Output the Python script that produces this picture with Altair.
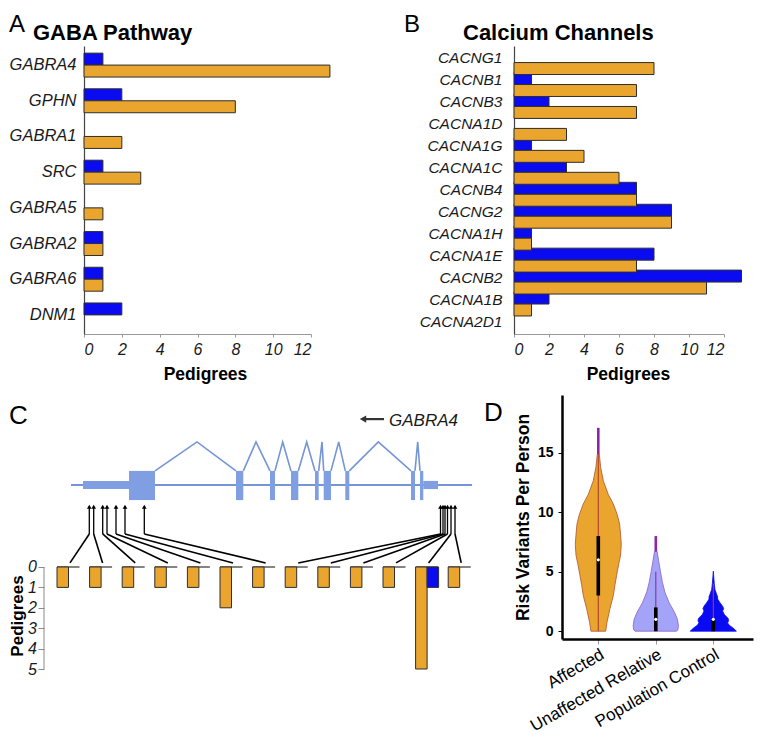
import altair as alt
import pandas as pd

FONT = "Liberation Sans"
ORANGE = "#E9A52E"
BLUE = "#0B0BF2"
LAVENDER = "#A3A3F7"
EDGE = "#2E2E2E"
EXON = "#7F9FE2"
INTRON = "#7595D6"
PURPLE = "#8E24A8"

# ---------------- data ----------------
series = ["Control", "Affected"]
pedigree_ticks = [0, 2, 4, 6, 8, 10, 12]

# Panel A - GABA pathway
gaba_genes = ["GABRA4", "GPHN", "GABRA1", "SRC", "GABRA5", "GABRA2", "GABRA6", "DNM1"]
gaba_control = [1, 2, 0, 1, 0, 1, 1, 2]
gaba_affected = [13, 8, 2, 3, 1, 1, 1, 0]

# Panel B - calcium channels
ca_genes = ["CACNG1", "CACNB1", "CACNB3", "CACNA1D", "CACNA1G", "CACNA1C", "CACNB4",
            "CACNG2", "CACNA1H", "CACNA1E", "CACNB2", "CACNA1B", "CACNA2D1"]
ca_control = [0, 1, 2, 0, 1, 3, 7, 9, 1, 8, 13, 2, 0]
ca_affected = [8, 7, 7, 3, 4, 6, 7, 9, 1, 7, 11, 1, 0]

# Panel C - GABRA4 gene model (positions along the gene, arbitrary units)
gene_span = [0, 401]
utr_start = [12, 352.3]
utr_end = [58, 367]
exon_start = [58, 165, 199, 220, 244, 252.7, 274.3, 340, 349]
exon_end = [84, 172.3, 204, 227.3, 247.7, 260, 278.3, 344, 352.3]
intron_peak = [126, 185, 211.7, 235.7, 251, 267.7, 307.3, 346.7]
variant_pos = [18.3, 22.7, 31.7, 36, 45, 54, 73.3, 369.5, 372, 374, 376.5, 380, 384]
variant_affected = [1, 1, 1, 1, 1, 2, 1, 1, 1, 1, 1, 5, 1]
variant_control = [0, 0, 0, 0, 0, 0, 0, 0, 0, 0, 0, 1, 0]
pedigree_ticks_c = [0, 1, 2, 3, 4, 5]

# Panel D - risk variants per person (violin half-widths per level)
groups = ["Affected", "Unaffected Relative", "Population Control"]
aff_level = [0, 0.74, 1.9, 3.0, 3.9, 4.7, 5.6, 6.4, 7.3, 8.1, 9.0, 9.8, 10.7, 11.5, 12.65, 13.8, 14.9]
aff_width = [0.128, 0.151, 0.203, 0.261, 0.29, 0.319, 0.354, 0.388, 0.40, 0.388, 0.371, 0.33,
             0.261, 0.174, 0.087, 0.041, 0.017]
unaff_level = [0, 0.1, 0.45, 1.0, 1.6, 2.4, 3.3, 4.1, 5.0, 5.85, 6.7]
unaff_width = [0.359, 0.383, 0.394, 0.377, 0.325, 0.232, 0.157, 0.116, 0.081, 0.052, 0.023]
pop_level = [0, 0.1, 0.3, 0.5, 0.7, 0.9, 1.1, 1.4, 1.7, 1.9, 2.1, 2.4, 2.7, 2.9, 3.1, 3.5, 4.0, 4.5, 5.05]
pop_width = [0.40, 0.383, 0.336, 0.278, 0.249, 0.267, 0.255, 0.191, 0.162, 0.18, 0.162, 0.116,
             0.075, 0.075, 0.058, 0.029, 0.017, 0.009, 0.0]
whisker_lo = [0, 0, 0]
whisker_hi = [14.9, 5, 4]
box_q1 = [3, 0, 0]
box_q3 = [8, 2, 1]
box_median = [6, 1, 1]
tip_lo = [14.9, 6.7]
tip_hi = [17.1, 8.0]
whisker_colors = ["#B0402E", "#9A2A9A", "#C0305A"]


# ---------------- helpers ----------------
def marker(px, py):
    return alt.Chart(pd.DataFrame({"m": [0]})).mark_rule(color="white", strokeWidth=1).encode(
        x=alt.value(px), x2=alt.value(px), y=alt.value(py), y2=alt.value(py))


def note(text, px, py, size, weight="normal", style="normal", angle=0, align="left",
         baseline="alphabetic", color="black"):
    return alt.Chart(pd.DataFrame({"t": [text]})).mark_text(
        font=FONT, fontSize=size, fontWeight=weight, fontStyle=style, angle=angle,
        align=align, baseline=baseline, color=color).encode(
        x=alt.value(px), y=alt.value(py), text="t:N")


def bar_panel(genes, control, affected, width, p_in, p_out, label_size, label_pad,
              letter, letter_x, title, title_x, left_mark, right_mark):
    df = pd.DataFrame({"gene": genes + genes,
                       "series": ["Control"] * len(genes) + ["Affected"] * len(genes),
                       "n": control + affected})
    bars = alt.Chart(df).transform_filter("datum.n > 0").mark_bar(
        stroke=EDGE, strokeWidth=1).encode(
        y=alt.Y("gene:N", scale=alt.Scale(domain=genes, paddingInner=p_in, paddingOuter=p_out),
                axis=alt.Axis(title=None, ticks=False, labelFont=FONT, labelFontSize=label_size,
                              labelFontStyle="italic", labelColor="#1a1a1a", labelPadding=label_pad,
                              domainColor="#444", domainWidth=1.2)),
        yOffset=alt.YOffset("series:N", scale=alt.Scale(domain=series, paddingInner=0, paddingOuter=0)),
        x=alt.X("n:Q", scale=alt.Scale(domain=[0, 12], nice=False),
                axis=alt.Axis(values=pedigree_ticks, title="Pedigrees", grid=False,
                              domainColor="#9a9a9a", tickColor="#9a9a9a", tickSize=3,
                              labelFont=FONT, labelFontSize=16, labelFontStyle="italic",
                              labelColor="#1a1a1a", labelPadding=4,
                              titleFont=FONT, titleFontSize=17.5, titleFontWeight="bold",
                              titleColor="black", titleX=title_x, titleY=31)),
        color=alt.Color("series:N", scale=alt.Scale(domain=series, range=[BLUE, ORANGE]), legend=None),
    )
    return alt.layer(
        bars,
        note(letter, letter_x, -14, 24),
        note(title, -51, -6, 22, weight="bold"),
        marker(left_mark, -37),
        marker(right_mark, 343),
    ).properties(width=width, height=288)


panel_a = bar_panel(gaba_genes, gaba_control, gaba_affected, 227, 0.33, 0.2, 16.5, 8,
                    "A", -75, "GABA Pathway", 121, -75, 257)
panel_b = bar_panel(ca_genes, ca_control, ca_affected, 210, 0.30, 0.21, 15.5, 12,
                    "B", -110, "Calcium Channels", 114, -113, 240)

# ---------------- panel C ----------------
LINE_Y, UTR_TOP, UTR_BOT = -4.02, -4.22, -3.82
EXON_TOP, EXON_BOT, ARC_PEAK = -4.71, -3.28, -6.13
ARROW_TOP, ARROW_BOT, LINK_END = -2.95, -1.62, -0.2
BAR_X0, BAR_STEP, BAR_W, TICK_LEN, LAND_OFF = -14, 32.6, 11.5, 22.5, 13
STRAND_Y, STRAND_X0, STRAND_X1, LABEL_X, LABEL_Y = -7.25, 292, 313, 318, -6.91

XC = alt.Scale(domain=[13, 405], nice=False, zero=False)
YC = alt.Scale(domain=[-8.431, 5.196], nice=False, zero=False, reverse=True)
yc_axis = alt.Axis(values=pedigree_ticks_c, title=None, domain=False, grid=False, offset=40,
                   tickSize=6, tickColor="#8a8a8a", labelFont=FONT, labelFontSize=16,
                   labelFontStyle="italic", labelColor="#1a1a1a", labelPadding=1.5)


def cx(field):
    return alt.X(field, scale=XC, axis=None)


def cy(field):
    return alt.Y(field, scale=YC, axis=yc_axis)


line_df = pd.DataFrame({"x0": [gene_span[0]], "x1": [gene_span[1]], "y": [LINE_Y]})
utr_df = pd.DataFrame({"s": utr_start, "e": utr_end, "t": UTR_TOP, "b": UTR_BOT})
exon_df = pd.DataFrame({"s": exon_start, "e": exon_end, "t": EXON_TOP, "b": EXON_BOT})
arc_rows = []
for i, pk in enumerate(intron_peak):
    arc_rows += [{"id": i, "seq": 0, "x": exon_end[i], "y": EXON_TOP},
                 {"id": i, "seq": 1, "x": pk, "y": ARC_PEAK},
                 {"id": i, "seq": 2, "x": exon_start[i + 1], "y": EXON_TOP}]
arc_df = pd.DataFrame(arc_rows)
var_df = pd.DataFrame({"pos": variant_pos, "aff": variant_affected, "ctl": variant_control,
                       "slot": list(range(len(variant_pos)))})
var_df["left"] = BAR_X0 + BAR_STEP * var_df["slot"]
var_df["mid"] = var_df["left"] + BAR_W
var_df["right"] = var_df["left"] + 2 * BAR_W
var_df["tick_end"] = var_df["left"] + TICK_LEN
var_df["land"] = var_df["left"] + LAND_OFF
var_df["zero"] = 0
var_df["a_top"] = ARROW_TOP
var_df["a_bot"] = ARROW_BOT
var_df["link"] = LINK_END
strand_df = pd.DataFrame({"x0": [STRAND_X0], "x1": [STRAND_X1], "y": [STRAND_Y],
                          "lx": [LABEL_X], "ly": [LABEL_Y], "name": ["GABRA4"]})
axis_df = pd.DataFrame({"x": [-27], "y0": [pedigree_ticks_c[0]], "y1": [pedigree_ticks_c[-1]]})

c_line = alt.Chart(line_df).mark_rule(color=INTRON, strokeWidth=2).encode(
    x=cx("x0:Q"), x2="x1:Q", y=cy("y:Q"))
c_arcs = alt.Chart(arc_df).mark_line(color=INTRON, strokeWidth=1.6).encode(
    x=cx("x:Q"), y=cy("y:Q"), detail="id:N", order="seq:Q")
c_utr = alt.Chart(utr_df).mark_rect(color=EXON).encode(
    x=cx("s:Q"), x2="e:Q", y=cy("t:Q"), y2="b:Q")
c_exon = alt.Chart(exon_df).mark_rect(color=EXON).encode(
    x=cx("s:Q"), x2="e:Q", y=cy("t:Q"), y2="b:Q")
c_strand = alt.Chart(strand_df).mark_rule(color="#333", strokeWidth=2.2).encode(
    x=cx("x0:Q"), x2="x1:Q", y=cy("y:Q"))
c_strand_head = alt.Chart(strand_df).mark_point(shape="triangle-left", filled=True, size=55,
                                                 color="#333", opacity=1).encode(
    x=cx("x0:Q"), y=cy("y:Q"))
c_strand_text = alt.Chart(strand_df).mark_text(font=FONT, fontSize=17, fontStyle="italic",
                                                color="#1a1a1a", align="left",
                                                baseline="alphabetic").encode(
    x=cx("lx:Q"), y=cy("ly:Q"), text="name:N")
c_shaft = alt.Chart(var_df).mark_rule(color="black", strokeWidth=1.3).encode(
    x=cx("pos:Q"), y=cy("a_bot:Q"), y2="a_top:Q")
c_head = alt.Chart(var_df).mark_point(shape="triangle-up", filled=True, size=22,
                                      color="black", opacity=1).encode(
    x=cx("pos:Q"), y=cy("a_top:Q"))
c_link = alt.Chart(var_df).mark_rule(color="black", strokeWidth=1.6).encode(
    x=cx("pos:Q"), x2="land:Q", y=cy("a_bot:Q"), y2="link:Q")
c_zero = alt.Chart(var_df).mark_rule(color="#333", strokeWidth=1.2).encode(
    x=cx("left:Q"), x2="tick_end:Q", y=cy("zero:Q"))
c_bar_aff = alt.Chart(var_df).transform_filter("datum.aff > 0").mark_rect(
    color=ORANGE, stroke=EDGE, strokeWidth=1).encode(
    x=cx("left:Q"), x2="mid:Q", y=cy("zero:Q"), y2="aff:Q")
c_bar_ctl = alt.Chart(var_df).transform_filter("datum.ctl > 0").mark_rect(
    color=BLUE, stroke=EDGE, strokeWidth=1).encode(
    x=cx("mid:Q"), x2="right:Q", y=cy("zero:Q"), y2="ctl:Q")
c_axis_line = alt.Chart(axis_df).mark_rule(color="#8a8a8a", strokeWidth=1).encode(
    x=cx("x:Q"), y=cy("y0:Q"), y2="y1:Q")

panel_c = alt.layer(
    c_line, c_arcs, c_utr, c_exon, c_strand, c_strand_head, c_strand_text,
    c_shaft, c_head, c_link, c_zero, c_bar_aff, c_bar_ctl, c_axis_line,
    note("C", -75, 29, 26),
    note("Pedigrees", -66.5, 221, 17, weight="bold", angle=270, align="center", baseline="middle"),
    marker(-75, -4),
    marker(395, 0),
).properties(width=392, height=278)

# ---------------- panel D ----------------
XD = alt.Scale(domain=[-0.631, 2.69], nice=False, zero=False)
YD = alt.Scale(domain=[-0.655, 19.86], nice=False, zero=False)
label_expr = "[" + ",".join("'" + g + "'" for g in groups) + "][datum.value]"
xd_axis = alt.Axis(values=[0, 1, 2], labelExpr=label_expr, title=None, grid=False,
                   domainColor="black", domainWidth=2.5, tickColor="#999", tickSize=5,
                   labelAngle=330, labelAlign="right", labelBaseline="top", labelOverlap=False,
                   labelFont=FONT, labelFontSize=17, labelColor="black", labelPadding=2)
yd_axis = alt.Axis(values=[0, 5, 10, 15], title="Risk Variants Per Person", grid=False,
                   domainColor="black", domainWidth=2.5, tickColor="black", tickSize=4,
                   labelFont=FONT, labelFontSize=14, labelFontWeight="bold", labelColor="black",
                   labelPadding=5, titleFont=FONT, titleFontSize=17.5, titleFontWeight="bold",
                   titleColor="black", titlePadding=5)


def dx(field):
    return alt.X(field, scale=XD, axis=xd_axis)


def dy(field):
    return alt.Y(field, scale=YD, axis=yd_axis)


vio_rows = []
for gi, (levels, widths) in enumerate([(aff_level, aff_width), (unaff_level, unaff_width),
                                        (pop_level, pop_width)]):
    for lv, w in zip(levels, widths):
        vio_rows.append({"grp": gi, "level": lv, "half": w})
vio_df = pd.DataFrame(vio_rows).sort_values(["grp", "level"]).reset_index(drop=True)
fills = [ORANGE, LAVENDER, BLUE]
strokes = ["#B0522E", "#8E5FC0", BLUE]
violins = []
for gi in range(3):
    violins.append(
        alt.Chart(vio_df).transform_filter(f"datum.grp == {gi}").transform_calculate(
            lo="datum.grp - datum.half", hi="datum.grp + datum.half").mark_area(
            orient="horizontal", fill=fills[gi], stroke=strokes[gi], strokeWidth=0.8,
            opacity=1).encode(
            y=dy("level:Q"), x=dx("lo:Q"), x2="hi:Q"))

stat_df = pd.DataFrame({"grp": [0, 1, 2], "wlo": whisker_lo, "whi": whisker_hi,
                        "q1": box_q1, "q3": box_q3, "med": box_median, "wcol": whisker_colors})
tip_df = pd.DataFrame({"grp": [0, 1], "lo": tip_lo, "hi": tip_hi})
d_whisker = alt.Chart(stat_df).mark_rule(strokeWidth=1.1).encode(
    x=dx("grp:Q"), y=dy("wlo:Q"), y2="whi:Q",
    color=alt.Color("wcol:N", scale=None, legend=None))
d_tip = alt.Chart(tip_df).mark_rule(strokeWidth=2.6, color=PURPLE).encode(
    x=dx("grp:Q"), y=dy("lo:Q"), y2="hi:Q")
d_box = alt.Chart(stat_df).mark_rule(strokeWidth=3.6, color="black").encode(
    x=dx("grp:Q"), y=dy("q1:Q"), y2="q3:Q")
d_med = alt.Chart(stat_df).mark_point(filled=True, color="white", size=10, opacity=1).encode(
    x=dx("grp:Q"), y=dy("med:Q"))

panel_d = alt.layer(
    *violins, d_whisker, d_tip, d_box, d_med,
    note("D", -78, 26, 26),
    marker(-81, -4),
).properties(width=191, height=244)

row1 = alt.hconcat(panel_a, panel_b, spacing=58)
row2 = alt.hconcat(panel_c, panel_d, spacing=0)
chart = alt.vconcat(row1, row2, spacing=0, padding=0, background="white").configure_view(stroke=None)

chart.save("out.html", embed_options={"renderer": "svg", "actions": False})
